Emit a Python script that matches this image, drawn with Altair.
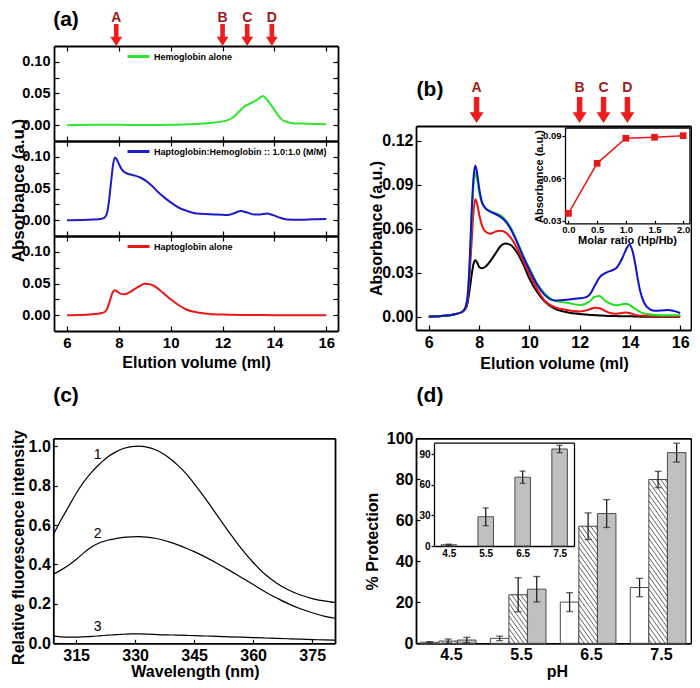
import altair as alt
import pandas as pd

# ---------------- (a) elution profiles ----------------
hb_vol = [6.0, 7.0, 8.0, 9.0, 10.0, 10.5, 11.0, 11.5, 12.0, 12.2, 12.4, 12.6, 12.8, 13.0, 13.2, 13.4,
          13.55, 13.7, 13.9, 14.1, 14.35, 14.7, 15.0, 15.5, 16.0]
hb_abs = [0.0, 0.0005, 0.0005, 0.0002, 0.0005, 0.001, 0.002, 0.0035, 0.006, 0.008, 0.012, 0.02, 0.028,
          0.033, 0.037, 0.042, 0.046, 0.041, 0.030, 0.018, 0.007, 0.003, 0.0025, 0.002, 0.0015]

cx_vol = [6.0, 6.5, 7.0, 7.3, 7.45, 7.55, 7.62, 7.7, 7.78, 7.85, 7.92, 8.0, 8.1, 8.25, 8.45, 8.65, 8.85,
          9.05, 9.25, 9.5, 9.75, 10.0, 10.3, 10.6, 11.0, 11.5, 12.0, 12.2, 12.45, 12.7, 12.95, 13.2,
          13.45, 13.7, 13.95, 14.2, 14.5, 15.0, 15.5, 16.0]
cx_abs = [0.0, 0.0003, 0.001, 0.002, 0.004, 0.012, 0.03, 0.06, 0.088, 0.099, 0.096, 0.089, 0.081, 0.075,
          0.072, 0.070, 0.067, 0.062, 0.055, 0.045, 0.036, 0.028, 0.020, 0.015, 0.0105, 0.0095, 0.0085,
          0.008, 0.011, 0.0145, 0.012, 0.009, 0.009, 0.0105, 0.008, 0.004, 0.0012, 0.0008, 0.0015, 0.0018]

hp_vol = [6.0, 6.5, 7.0, 7.3, 7.45, 7.55, 7.65, 7.75, 7.85, 7.95, 8.05, 8.2, 8.4, 8.6, 8.8, 9.0, 9.2,
          9.4, 9.6, 9.8, 10.0, 10.3, 10.6, 11.0, 11.5, 12.0, 13.0, 14.0, 15.0, 16.0]
hp_abs = [0.0, 0.0003, 0.0015, 0.003, 0.005, 0.01, 0.022, 0.035, 0.0395, 0.037, 0.034, 0.033, 0.036,
          0.041, 0.046, 0.0495, 0.049, 0.045, 0.039, 0.032, 0.025, 0.016, 0.009, 0.0045, 0.002, 0.001,
          0.0003, 0.0, 0.0, 0.0]

a_names = ["Hemoglobin alone", "Haptoglobin:Hemoglobin :: 1.0:1.0 (M/M)", "Haptoglobin alone"]

# ---------------- (b) titration profiles ----------------
b_vol = [6.0, 6.5, 7.0, 7.3, 7.45, 7.55, 7.62, 7.7, 7.78, 7.85, 7.92, 8.0, 8.1, 8.25, 8.45, 8.65, 8.85,
         9.05, 9.25, 9.5, 9.75, 10.0, 10.3, 10.6, 11.0, 11.5, 12.0, 12.2, 12.4, 12.6, 12.8, 13.0, 13.2,
         13.45, 13.7, 13.85, 13.98, 14.1, 14.2, 14.3, 14.4, 14.55, 14.8, 15.0, 15.5, 16.0]
b_black = [0.0, 0.0005, 0.0015, 0.003, 0.005, 0.01, 0.018, 0.028, 0.036, 0.0385, 0.037, 0.034, 0.033,
           0.034, 0.038, 0.043, 0.048, 0.0498, 0.049, 0.044, 0.036, 0.026, 0.017, 0.0105, 0.0055, 0.003,
           0.0018, 0.0015, 0.0012, 0.001, 0.0008, 0.0006, 0.0005, 0.0004, 0.0003, 0.0003, 0.0002, 0.0002,
           0.0001, 0.0001, 0.0, 0.0, 0.0, 0.0, 0.0, 0.0]
b_red = [0.0, 0.0005, 0.0015, 0.003, 0.005, 0.012, 0.028, 0.05, 0.072, 0.080, 0.077, 0.070, 0.063,
         0.058, 0.0565, 0.058, 0.0585, 0.0575, 0.054, 0.047, 0.038, 0.029, 0.019, 0.011, 0.0065, 0.0045,
         0.0035, 0.004, 0.005, 0.006, 0.0058, 0.004, 0.0025, 0.002, 0.0025, 0.0028, 0.0025, 0.0018, 0.0012,
         0.0009, 0.0007, 0.0006, 0.0005, 0.0005, 0.0005, 0.0005]
b_green = [0.0, 0.0005, 0.0015, 0.003, 0.006, 0.015, 0.035, 0.065, 0.09, 0.098, 0.094, 0.085, 0.078,
           0.074, 0.072, 0.0705, 0.069, 0.066, 0.061, 0.052, 0.042, 0.033, 0.023, 0.016, 0.011, 0.0095,
           0.008, 0.0085, 0.0105, 0.0135, 0.014, 0.011, 0.009, 0.0078, 0.0085, 0.0088, 0.008, 0.0065,
           0.0055, 0.0043, 0.0032, 0.0022, 0.0015, 0.0012, 0.001, 0.001]
b_blue = [0.0, 0.0005, 0.0015, 0.003, 0.006, 0.015, 0.035, 0.07, 0.095, 0.103, 0.098, 0.088, 0.079,
          0.074, 0.0715, 0.070, 0.068, 0.065, 0.060, 0.051, 0.041, 0.032, 0.022, 0.015, 0.011, 0.0115,
          0.0125, 0.013, 0.015, 0.021, 0.027, 0.0295, 0.031, 0.033, 0.040, 0.046, 0.049, 0.045, 0.037,
          0.027, 0.018, 0.010, 0.005, 0.004, 0.0045, 0.0025]
b_names = ["Hp alone", "Hp:Hb 1", "Hp:Hb 2", "Hp:Hb 3"]

molar_ratio = [0.0, 0.5, 1.0, 1.5, 2.0]
molar_abs = [0.0352, 0.0705, 0.0882, 0.0889, 0.0900]

peak_letters = ["A", "B", "C", "D"]
peak_vol = [7.9, 12.0, 12.95, 13.9]

# ---------------- (c) fluorescence spectra ----------------
wl = [309.2, 311, 313, 315, 317, 319, 321, 323, 325, 327, 329, 331, 333, 335, 337, 339, 341, 343, 345,
      348, 351, 354, 357, 360, 363, 366, 369, 372, 375, 378, 380.8]
fl_1 = [0.55, 0.62, 0.69, 0.76, 0.82, 0.87, 0.91, 0.945, 0.97, 0.988, 0.998, 1.0, 0.995, 0.983, 0.963,
        0.935, 0.90, 0.86, 0.81, 0.73, 0.645, 0.56, 0.48, 0.41, 0.35, 0.305, 0.27, 0.245, 0.227, 0.215,
        0.207]
fl_2 = [0.35, 0.37, 0.395, 0.425, 0.46, 0.49, 0.51, 0.523, 0.531, 0.537, 0.54, 0.541, 0.539, 0.533,
        0.524, 0.512, 0.498, 0.482, 0.465, 0.436, 0.404, 0.37, 0.334, 0.298, 0.262, 0.23, 0.2, 0.175,
        0.155, 0.138, 0.127]
fl_3 = [0.036, 0.033, 0.031, 0.031, 0.033, 0.035, 0.038, 0.041, 0.044, 0.046, 0.048, 0.048, 0.047,
        0.045, 0.043, 0.042, 0.041, 0.040, 0.039, 0.037, 0.035, 0.033, 0.031, 0.029, 0.027, 0.025,
        0.023, 0.021, 0.019, 0.017, 0.016]
curve_ids = ["1", "2", "3"]
label_wl = 321

# ---------------- (d) protection vs pH ----------------
ph = [4.5, 5.5, 6.5, 7.5]
prot_open = [0.5, 2.4, 20.1, 27.2]
err_open = [0.3, 1.1, 4.6, 4.5]
prot_hatch = [1.1, 23.7, 57.1, 79.9]
err_hatch = [1.0, 8.3, 6.5, 4.0]
prot_gray = [1.6, 26.4, 63.3, 93.0]
err_gray = [1.3, 6.2, 6.8, 4.6]
inset_prot = [1.2, 28.7, 67.6, 95.3]
inset_err = [0.6, 8.7, 6.0, 3.6]

# ================= layout helpers =================
W, H = 684, 672
M = 8
FONT = "Liberation Sans"


def px(p):
    return p - M


def lin(domain, rng):
    return alt.Scale(domain=list(domain), range=list(rng), nice=False, zero=False)


def make_axis(orient, pos, values=None, labels=False, fmt=None, size=15, tick=0, inward=True,
              gap=3, title=None, tx=0, ty=0, tsize=16, dw=1.8, expr=None):
    if orient == "bottom":
        off = pos - H
    elif orient == "right":
        off = pos - W
    else:
        off = -pos
    kw = dict(orient=orient, offset=off, grid=False, domain=True, domainColor="black",
              domainWidth=dw, labelOverlap=False, labelFlush=False)
    if values is not None:
        kw["values"] = values
    if tick > 0:
        kw["ticks"] = True
        kw["tickColor"] = "black"
        kw["tickWidth"] = 1.2
        if inward:
            kw["tickSize"] = alt.ExprRef(expr=str(-tick))
            pad = tick + gap
        else:
            kw["tickSize"] = tick
            pad = gap
    else:
        kw["ticks"] = False
        pad = gap
    if labels:
        kw.update(labels=True, labelFont=FONT, labelFontSize=size, labelFontWeight="bold",
                  labelColor="black", labelPadding=pad)
        if fmt:
            kw["format"] = fmt
        if expr:
            kw["labelExpr"] = expr
    else:
        kw["labels"] = False
    if title:
        kw.update(title=title, titleFont=FONT, titleFontSize=tsize, titleFontWeight="bold",
                  titleColor="black", titleX=tx, titleY=ty, titleAlign="center",
                  titleBaseline="middle")
    else:
        kw["title"] = None
    return alt.Axis(**kw)


def text_at(label, x, y, size=21, color="black", weight="bold"):
    return alt.Chart(pd.DataFrame({"t": [label]})).mark_text(
        font=FONT, fontSize=size, fontWeight=weight, color=color, align="center", baseline="middle"
    ).encode(text="t:N", x=alt.value(x), y=alt.value(y))


def arrows(xscale, y_center, y_letter, height):
    half = height / 2.0
    shape = "M-0.21,-1L0.21,-1L0.21,0.17L0.54,0.17L0,1L-0.54,0.17L-0.21,0.17Z"
    df = pd.DataFrame({"letter": peak_letters, "vol": peak_vol})
    arr = alt.Chart(df).mark_point(shape=shape, size=(2 * half) ** 2, filled=True, color="#ee1c1c",
                                   opacity=1, strokeWidth=0).encode(
        x=alt.X("vol:Q", scale=xscale, axis=None), y=alt.value(y_center))
    let = alt.Chart(df).mark_text(font=FONT, fontSize=14, fontWeight="bold", color="#9e1a1a",
                                  baseline="middle").encode(
        x=alt.X("vol:Q", scale=xscale, axis=None), y=alt.value(y_letter), text="letter:N")
    return [arr, let]


layers = []

# ================= panel (a) =================
A_XD = [5.5, 16.45]
A_YD = [-0.025, 0.125]
A_L, A_R = 54, 338
A_TOP = [46, 141, 236]
A_BOT = [141, 236, 331]
A_XT = [6, 8, 10, 12, 14, 16]
A_YT = [0.0, 0.025, 0.05, 0.075, 0.1]
A_EXPR = "round(datum.value * 1000) % 50 == 0 ? format(datum.value, '.2f') : ''"
a_series = [(hb_vol, hb_abs, "#2fe62f", 57), (cx_vol, cx_abs, "#1c1cc8", 152), (hp_vol, hp_abs, "#e81818", 247)]
a_scale_x = lin(A_XD, [px(A_L), px(A_R)])

for i, (vv, aa, col, leg_y) in enumerate(a_series):
    df = pd.DataFrame({"vol": vv, "abs": aa, "name": a_names[i]})
    ys = lin(A_YD, [px(A_BOT[i]), px(A_TOP[i])])
    xax = make_axis("bottom", px(A_BOT[i]), values=A_XT, labels=(i == 2), fmt="d", size=15, tick=5,
                    gap=4, title=("Elution volume (ml)" if i == 2 else None), tx=px(196),
                    ty=px(362) - px(A_BOT[i]))
    yax = make_axis("left", px(A_L), values=A_YT, labels=True, size=14.5, tick=5, gap=4, expr=A_EXPR,
                    title=("Absorbance (a.u.)" if i == 1 else None), tx=px(18) - px(A_L), ty=px(190),
                    tsize=17)
    line = alt.Chart(df).mark_line(strokeWidth=2, interpolate="monotone").encode(
        x=alt.X("vol:Q", scale=a_scale_x, axis=xax),
        y=alt.Y("abs:Q", scale=ys, axis=yax),
        color=alt.Color("name:N", scale=alt.Scale(domain=[a_names[i]], range=[col]),
                        legend=alt.Legend(orient="none", legendX=px(126), legendY=px(leg_y) - 13,
                                          title=None, symbolType="stroke", symbolStrokeWidth=3,
                                          symbolSize=484, labelFont=FONT, labelFontSize=9,
                                          labelFontWeight="bold", labelColor="black", labelOffset=3,
                                          padding=0, labelLimit=400)))
    frame = alt.Chart(df.head(2)).mark_point(opacity=0).encode(
        x=alt.X("vol:Q", scale=a_scale_x, axis=make_axis("top", px(A_TOP[i]), values=A_XT, tick=5)),
        y=alt.Y("abs:Q", scale=ys, axis=make_axis("right", px(A_R), values=A_YT, tick=5)))
    layers += [line, frame]

layers += arrows(a_scale_x, px(35), px(18), 22)
layers.append(text_at("(a)", px(66), 12))

# ================= panel (b) =================
B_L, B_R, B_T, B_B = 416, 691, 126, 330
b_xs = lin([5.49, 16.43], [px(B_L), px(B_R)])
b_ys = lin([-0.0091, 0.130], [px(B_B), px(B_T)])
b_df = pd.concat([pd.DataFrame({"vol": b_vol, "abs": s, "name": n})
                  for s, n in zip([b_black, b_red, b_green, b_blue], b_names)])
b_lines = alt.Chart(b_df).mark_line(strokeWidth=2, interpolate="monotone").encode(
    x=alt.X("vol:Q", scale=b_xs,
            axis=make_axis("bottom", px(B_B), values=A_XT, labels=True, fmt="d", size=16, tick=5, gap=4,
                           title="Elution volume (ml)", tx=px(554), ty=px(363) - px(B_B))),
    y=alt.Y("abs:Q", scale=b_ys,
            axis=make_axis("left", px(B_L), values=[0.0, 0.03, 0.06, 0.09, 0.12], labels=True, fmt=".2f",
                           size=16, tick=5, gap=3, title="Absorbance (a.u.)", tx=px(376) - px(B_L),
                           ty=px(228))),
    color=alt.Color("name:N", scale=alt.Scale(domain=b_names,
                                              range=["#000000", "#ee1111", "#22dd22", "#1111cc"]),
                    legend=None),
    detail="name:N")
b_frame = alt.Chart(b_df.head(2)).mark_point(opacity=0).encode(
    x=alt.X("vol:Q", scale=b_xs, axis=make_axis("top", px(B_T))),
    y=alt.Y("abs:Q", scale=b_ys, axis=make_axis("right", px(B_R))))
layers += [b_lines, b_frame]

# inset of (b)
I_L, I_R, I_T, I_B = 565, 689.5, 127.5, 223.3
i_xs = lin([-0.06, 2.11], [px(I_L), px(I_R)])
i_ys = lin([0.0282, 0.0958], [px(I_B), px(I_T)])
i_df = pd.DataFrame({"ratio": molar_ratio, "abs": molar_abs})
b_inset = alt.Chart(i_df).mark_line(color="#e81818", strokeWidth=1.5,
                                    point=alt.OverlayMarkDef(shape="square", size=45, filled=True,
                                                             color="#e81818")).encode(
    x=alt.X("ratio:Q", scale=i_xs,
            axis=make_axis("bottom", px(I_B), values=[0.0, 0.5, 1.0, 1.5, 2.0], labels=True, fmt=".1f",
                           size=9.5, tick=3, inward=True, gap=1, title="Molar ratio (Hp/Hb)",
                           tx=px(627), ty=px(240) - px(I_B), tsize=11, dw=1.3)),
    y=alt.Y("abs:Q", scale=i_ys,
            axis=make_axis("left", px(I_L), values=[0.03, 0.06, 0.09], labels=True, fmt=".2f", size=9.5,
                           tick=3, inward=False, gap=1, title="Absorbance (a.u.)",
                           tx=px(539) - px(I_L), ty=px(176), tsize=11, dw=1.3)))
b_inset_frame = alt.Chart(i_df.head(2)).mark_point(opacity=0).encode(
    x=alt.X("ratio:Q", scale=i_xs, axis=make_axis("top", px(I_T), dw=1.3)),
    y=alt.Y("abs:Q", scale=i_ys, axis=make_axis("right", px(I_R), dw=1.3)))
layers += [b_inset, b_inset_frame]
layers += arrows(b_xs, px(110), px(88), 26)
layers.append(text_at("(b)", px(430), px(90)))

# ================= panel (c) =================
C_L, C_R, C_T, C_B = 53.3, 335, 438.3, 643.3
c_xs = lin([309.2, 380.8], [px(C_L), px(C_R)])
c_ys = lin([0.0, 1.04], [px(C_B), px(C_T)])
c_df = pd.concat([pd.DataFrame({"wl": wl, "fl": s, "curve": n})
                  for s, n in zip([fl_1, fl_2, fl_3], curve_ids)])
c_lines = alt.Chart(c_df).mark_line(color="black", strokeWidth=1.2, interpolate="monotone").encode(
    x=alt.X("wl:Q", scale=c_xs,
            axis=make_axis("bottom", px(C_B), values=[315, 330, 345, 360, 375], labels=True, fmt="d",
                           size=16, tick=4, gap=4, title="Wavelength (nm)", tx=px(195),
                           ty=px(671) - px(C_B))),
    y=alt.Y("fl:Q", scale=c_ys,
            axis=make_axis("left", px(C_L), values=[0.0, 0.2, 0.4, 0.6, 0.8, 1.0], labels=True,
                           fmt=".1f", size=16, tick=4, gap=3, title="Relative fluorescence intensity",
                           tx=px(18) - px(C_L), ty=px(547))),
    detail="curve:N")
c_frame = alt.Chart(c_df.head(2)).mark_point(opacity=0).encode(
    x=alt.X("wl:Q", scale=c_xs, axis=make_axis("top", px(C_T))),
    y=alt.Y("fl:Q", scale=c_ys, axis=make_axis("right", px(C_R))))
c_labels = alt.Chart(c_df[c_df["wl"] == label_wl]).mark_text(
    font=FONT, fontSize=14, color="black", dy=-9, dx=-2).encode(
    x=alt.X("wl:Q", scale=c_xs, axis=None), y=alt.Y("fl:Q", scale=c_ys, axis=None), text="curve:N")
layers += [c_lines, c_frame, c_labels]
layers.append(text_at("(c)", px(66), px(396)))

# ================= panel (d) =================
D_L, D_R, D_T, D_B = 416, 691, 438.3, 643.3
D_XD = [4.0, 7.93]
d_xs = lin(D_XD, [px(D_L), px(D_R)])
d_ys = lin([0.0, 100.0], [px(D_B), px(D_T)])
BW = 0.265
offsets = [-0.305, -0.04, 0.225]
kinds = ["open", "hatched", "filled"]
rows = []
for k, (vals, errs) in enumerate(zip([prot_open, prot_hatch, prot_gray], [err_open, err_hatch, err_gray])):
    for p, v, e in zip(ph, vals, errs):
        xc = p + offsets[k]
        rows.append(dict(kind=kinds[k], xc=xc, x0=xc - BW / 2, x1=xc + BW / 2, val=v, base=0.0,
                         lo=v - e, hi=v + e))
d_df = pd.DataFrame(rows)

d_bars = alt.Chart(d_df).mark_bar(stroke="#4a4a4a", strokeWidth=1).encode(
    x=alt.X("x0:Q", scale=d_xs,
            axis=make_axis("bottom", px(D_B), values=ph, labels=True, fmt=".1f", size=16, gap=3,
                           title="pH", tx=px(557), ty=px(671) - px(D_B))),
    x2="x1:Q",
    y=alt.Y("val:Q", scale=d_ys,
            axis=make_axis("left", px(D_L), values=[0, 20, 40, 60, 80, 100], labels=True, fmt="d", size=16,
                           tick=4, gap=3, title="% Protection", tx=px(372) - px(D_L), ty=px(541))),
    y2="base:Q",
    fill=alt.Fill("kind:N", scale=alt.Scale(domain=kinds, range=["#ffffff", "#ffffff", "#c0c0c0"]),
                  legend=None))

# hatch lines for the hatched bars (computed inside each bar)
ppx = (D_R - D_L) / (D_XD[1] - D_XD[0])
ppy = (D_B - D_T) / 100.0
hrows = []
slope, step = 1.4, 4.5
for _, r in d_df[d_df["kind"] == "hatched"].iterrows():
    w = (r["x1"] - r["x0"]) * ppx
    h = r["val"] * ppy
    c = -slope * w + step * slope / 2
    while c < h:
        u0 = max(0.0, -c / slope)
        u1 = min(w, (h - c) / slope)
        if u1 > u0:
            hrows.append(dict(hx=r["x0"] + u0 / ppx, hy=r["val"] - (c + slope * u0) / ppy,
                              hx2=r["x0"] + u1 / ppx, hy2=r["val"] - (c + slope * u1) / ppy))
        c += step * slope
h_df = pd.DataFrame(hrows)
d_hatch = alt.Chart(h_df).mark_rule(color="#3a3a3a", strokeWidth=0.8).encode(
    x=alt.X("hx:Q", scale=d_xs, axis=None), x2="hx2:Q",
    y=alt.Y("hy:Q", scale=d_ys, axis=None), y2="hy2:Q")

d_err = alt.Chart(d_df).mark_rule(color="#222222", strokeWidth=1.3).encode(
    x=alt.X("xc:Q", scale=d_xs, axis=None),
    y=alt.Y("lo:Q", scale=d_ys, axis=None), y2="hi:Q")
cap_df = pd.concat([d_df.assign(cap=d_df["lo"]), d_df.assign(cap=d_df["hi"])])
d_caps = alt.Chart(cap_df).mark_tick(orient="horizontal", size=7, thickness=1.3, color="#222222").encode(
    x=alt.X("xc:Q", scale=d_xs, axis=None),
    y=alt.Y("cap:Q", scale=d_ys, axis=None))
d_frame = alt.Chart(d_df.head(2)).mark_point(opacity=0).encode(
    x=alt.X("xc:Q", scale=d_xs, axis=make_axis("top", px(D_T))),
    y=alt.Y("val:Q", scale=d_ys, axis=make_axis("right", px(D_R))))
layers += [d_bars, d_hatch, d_err, d_caps, d_frame]

# inset of (d)
J_L, J_R, J_T, J_B = 434, 574, 442.7, 546
j_xs = lin([4.1, 7.89], [px(J_L), px(J_R)])
j_ys = lin([0.0, 101.5], [px(J_B), px(J_T)])
JBW = 0.42
j_df = pd.DataFrame({"ph": ph, "val": inset_prot, "err": inset_err})
j_df["x0"] = j_df["ph"] - JBW / 2
j_df["x1"] = j_df["ph"] + JBW / 2
j_df["base"] = 0.0
j_df["lo"] = j_df["val"] - j_df["err"]
j_df["hi"] = j_df["val"] + j_df["err"]
j_bars = alt.Chart(j_df).mark_bar(fill="#c0c0c0", stroke="#4a4a4a", strokeWidth=1).encode(
    x=alt.X("x0:Q", scale=j_xs,
            axis=make_axis("bottom", px(J_B), values=ph, labels=True, fmt=".1f", size=10, gap=2, dw=1.3)),
    x2="x1:Q",
    y=alt.Y("val:Q", scale=j_ys,
            axis=make_axis("left", px(J_L), values=[0, 30, 60, 90], labels=True, fmt="d", size=10, tick=3,
                           inward=False, gap=1, dw=1.3)),
    y2="base:Q")
j_err = alt.Chart(j_df).mark_rule(color="#222222", strokeWidth=1.3).encode(
    x=alt.X("ph:Q", scale=j_xs, axis=None),
    y=alt.Y("lo:Q", scale=j_ys, axis=None), y2="hi:Q")
jcap_df = pd.concat([j_df.assign(cap=j_df["lo"]), j_df.assign(cap=j_df["hi"])])
j_caps = alt.Chart(jcap_df).mark_tick(orient="horizontal", size=6, thickness=1.3, color="#222222").encode(
    x=alt.X("ph:Q", scale=j_xs, axis=None),
    y=alt.Y("cap:Q", scale=j_ys, axis=None))
j_frame = alt.Chart(j_df.head(2)).mark_point(opacity=0).encode(
    x=alt.X("ph:Q", scale=j_xs, axis=make_axis("top", px(J_T), dw=1.3)),
    y=alt.Y("val:Q", scale=j_ys, axis=make_axis("right", px(J_R), dw=1.3)))
layers += [j_bars, j_err, j_caps, j_frame]
layers.append(text_at("(d)", px(430), px(396)))

chart = alt.layer(*layers).resolve_scale(
    x="independent", y="independent", color="independent", fill="independent"
).resolve_axis(x="independent", y="independent").resolve_legend(color="independent").properties(
    width=W, height=H, autosize=alt.AutoSizeParams(type="none"), padding=0
).configure_view(strokeWidth=0)

chart.save("out.html", embed_options={"renderer": "svg", "actions": False})
